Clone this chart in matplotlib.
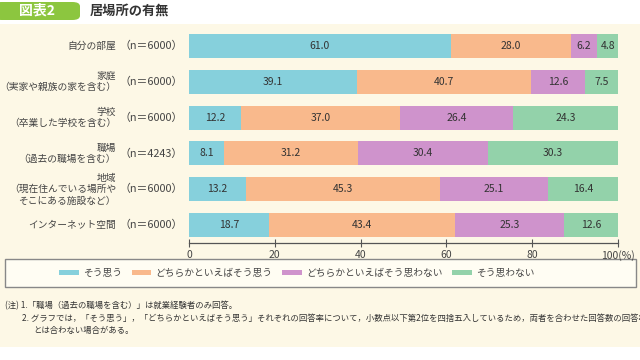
import matplotlib
matplotlib.use('Agg')
import matplotlib.pyplot as plt
from matplotlib.patches import Rectangle, FancyBboxPatch, Patch
from matplotlib.transforms import blended_transform_factory, ScaledTranslation
import numpy as np

plt.rcParams['font.family'] = ['Noto Sans CJK JP', 'DejaVu Sans']

# ---------------- data ----------------
categories = ['自分の部屋',
              '家庭\n（実家や親族の家を含む）',
              '学校\n（卒業した学校を含む）',
              '職場\n（過去の職場を含む）',
              '地域\n（現在住んでいる場所や\nそこにある施設など）',
              'インターネット空間']
n_labels = ['（n＝6000）', '（n＝6000）', '（n＝6000）', '（n＝4243）', '（n＝6000）', '（n＝6000）']
series_names = ['そう思う', 'どちらかといえばそう思う', 'どちらかといえばそう思わない', 'そう思わない']
agree = [61.0, 39.1, 12.2, 8.1, 13.2, 18.7]
somewhat_agree = [28.0, 40.7, 37.0, 31.2, 45.3, 43.4]
somewhat_disagree = [6.2, 12.6, 26.4, 30.4, 25.1, 25.3]
disagree = [4.8, 7.5, 24.3, 30.3, 16.4, 12.6]
x_ticks = [0, 20, 40, 60, 80, 100]
x_tick_labels = ['0', '20', '40', '60', '80', '100(%)']
title_tag = '図表2'
title = '居場所の有無'
notes = ['(注) 1.「職場（過去の職場を含む）」は就業経験者のみ回答。',
         '2. グラフでは，「そう思う」，「どちらかといえばそう思う」それぞれの回答率について，小数点以下第2位を四捨五入しているため，両者を合わせた回答数の回答率',
         'とは合わない場合がある。']

colors = ['#86d0dc', '#f9b98c', '#cf93cc', '#93d2aa']
series = [agree, somewhat_agree, somewhat_disagree, disagree]

W, H = 640, 360
fig = plt.figure(figsize=(W / 100, H / 100), dpi=100, facecolor='white')

# cream background
fig.patches.append(Rectangle((0, 1 - 347 / H), 1, (347 - 24) / H, transform=fig.transFigure,
                             facecolor='#fdf8e6', edgecolor='none', zorder=-5))
# title tag
fig.patches.append(FancyBboxPatch((-6 / W, 1 - 20 / H), 86 / W, 18 / H,
                                  boxstyle='round,pad=0,rounding_size=0.012',
                                  transform=fig.transFigure, facecolor='#8cc63f',
                                  edgecolor='none', zorder=1))
fig.text(37 / W, 1 - 11 / H, title_tag, color='white', fontsize=10, fontweight='bold',
         ha='center', va='center')
fig.text(90 / W, 1 - 11 / H, title, color='#333333', fontsize=9.5, fontweight='bold',
         ha='left', va='center')

ax = fig.add_axes([189 / W, 1 - 243 / H, 429 / W, 215 / H])
ax.set_facecolor('none')
ax.set_zorder(2)
y = np.arange(len(categories))
left = np.zeros(len(categories))
for vals, c, name in zip(series, colors, series_names):
    vals = np.array(vals)
    ax.barh(y, vals, left=left, height=0.67, color=c, edgecolor='none', label=name)
    for yi, l, v in zip(y, left, vals):
        ax.text(l + v / 2, yi, f'{v:.1f}', ha='center', va='center', fontsize=7.5, color='#333333')
    left += vals

ax.set_xlim(0, 100)
ax.set_ylim(len(categories) - 0.5, -0.5)
ax.set_yticks([])
ax.set_xticks(x_ticks)
ax.set_xticklabels(x_tick_labels, fontsize=7.5, color='#444444')
last = ax.get_xticklabels()[-1]
last.set_transform(last.get_transform() + ScaledTranslation(-3 / 100, 0, fig.dpi_scale_trans))
ax.tick_params(axis='x', direction='inout', length=6, width=0.8, color='#555555', pad=2)
for s in ['top', 'right', 'left']:
    ax.spines[s].set_visible(False)
ax.spines['bottom'].set_color('#555555')
ax.spines['bottom'].set_linewidth(0.9)

tr = blended_transform_factory(fig.transFigure, ax.transData)
for yi, cat, nl in zip(y, categories, n_labels):
    ax.text(116 / W, yi, cat, transform=tr, ha='right', va='center', fontsize=7,
            color='#444444', multialignment='right', linespacing=1.15, clip_on=False)
    ax.text(183 / W, yi, nl, transform=tr, ha='right', va='center', fontsize=7.8,
            color='#444444', clip_on=False)

# legend box
fig.patches.append(Rectangle((5 / W, 1 - 287 / H), 631 / W, 28 / H, transform=fig.transFigure,
                             facecolor='#fffdf3', edgecolor='#888888', linewidth=1.0, zorder=1))
handles = [Patch(facecolor=c, edgecolor='none') for c in colors]
leg = fig.legend(handles, series_names, loc='center', bbox_to_anchor=(297 / W, 1 - 273 / H),
                 ncol=4, frameon=False, fontsize=7, handlelength=2.0, handleheight=0.55,
                 handletextpad=0.45, columnspacing=1.0, labelcolor='#444444')
leg.set_zorder(3)

# notes
fig.text(5 / W, 1 - 306 / H, notes[0], fontsize=6, color='#333333', ha='left', va='center')
fig.text(22 / W, 1 - 318 / H, notes[1], fontsize=6, color='#333333', ha='left', va='center')
fig.text(33 / W, 1 - 330 / H, notes[2], fontsize=6, color='#333333', ha='left', va='center')

fig.savefig('out.png', dpi=100)
